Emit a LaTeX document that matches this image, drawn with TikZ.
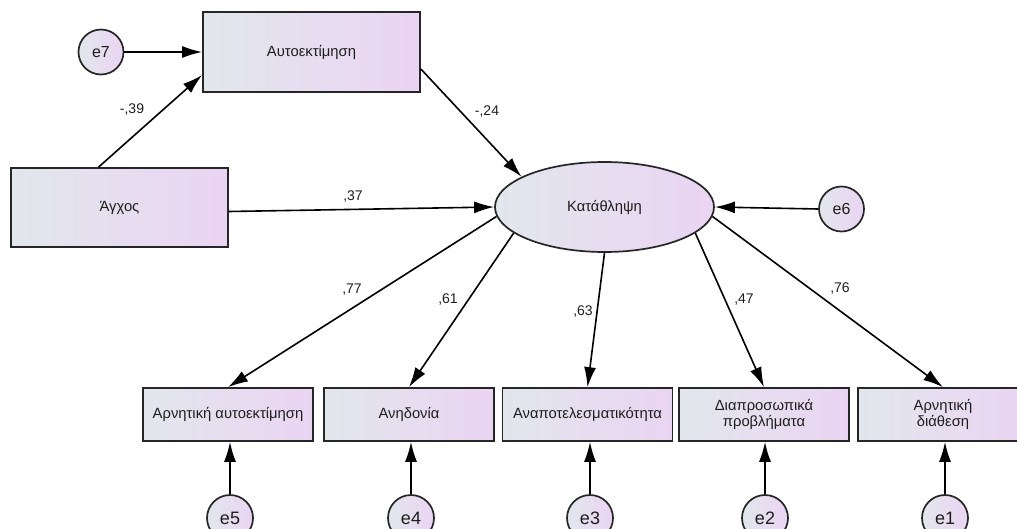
\documentclass[tikz,border=0pt]{standalone}
\usepackage{fontspec}
\setmainfont{Liberation Sans}
\usetikzlibrary{arrows.meta,calc,shapes.geometric}
\definecolor{cL}{RGB}{226,231,236}
\definecolor{cR}{RGB}{234,212,243}
\definecolor{txt}{RGB}{30,30,30}
\begin{document}
\begin{tikzpicture}[x=1pt,y=-1pt,
  every node/.style={font=\fontsize{14.8}{16.5}\selectfont, text=txt},
  obs/.style={draw=black!85, line width=1.7pt, rectangle, inner sep=0pt, left color=cL, right color=cR, align=center},
  lat/.style={draw=black!85, line width=1.7pt, ellipse, inner sep=0pt, minimum width=219, minimum height=90, left color=cL, right color=cR},
  err/.style={draw=black!85, line width=1.7pt, circle, inner sep=0pt, minimum size=45, left color=cL, right color=cR, font=\fontsize{16}{18}\selectfont},
  errb/.style={err, minimum size=46, font=\fontsize{18}{20}\selectfont},
  arr/.style={-{Latex[length=20pt,width=12pt]}, line width=1.6pt, black},
  coef/.style={inner sep=0pt, font=\fontsize{14}{16}\selectfont}]
\useasboundingbox (0,0) rectangle (1017,528);
\clip (0,0) rectangle (1017,528);
\fill[white] (0,0) rectangle (1017,528);

% nodes
\node[obs, minimum width=217, minimum height=80] (A) at (311.5,52) {Αυτοεκτίμηση};
\node[obs, minimum width=217, minimum height=79] (G) at (119.5,207.5) {Άγχος};
\node[lat] (K) at (604.5,207) {Κατάθληψη};
\node[err] (e7) at (101,52) {e7};
\node[err] (e6) at (841.5,209) {e6};

\node[obs, minimum width=170, minimum height=53] (b5) at (228,414.5) {Αρνητική αυτοεκτίμηση};
\node[obs, minimum width=170, minimum height=53] (b4) at (409,414.5) {Ανηδονία};
\node[obs, minimum width=170, minimum height=53] (b3) at (587.5,414.5) {Αναποτελεσματικότητα};
\node[obs, minimum width=170, minimum height=53] (b2) at (764,414.5) {Διαπροσωπικά\\[-1pt]προβλήματα};
\node[obs, minimum width=170, minimum height=53] (b1) at (943,414.5) {Αρνητική\\[-1pt]διάθεση};

\node[errb] (e5) at (230,518) {e5};
\node[errb] (e4) at (411,518) {e4};
\node[errb] (e3) at (590,518) {e3};
\node[errb] (e2) at (765,518) {e2};
\node[errb] (e1) at (945,518) {e1};

% connectors
\draw[arr] (e7.east) -- (A.west |- e7.east);
\draw[arr] ($(G.north)+(-21,0)$) -- ($(A.west)+(0,23)$);
\draw[arr] ($(A.east)+(0,17)$) -- (K.160);
\draw[arr] ($(G.east)+(0,4)$) -- (K.west);
\draw[arr] (e6.west) -- (K.east);

\draw[arr] (K.185) -- (b5.north);
\draw[arr] (K.196) -- (b4.north);
\draw[arr] (K.270) -- (b3.north);
\draw[arr] (K.344) -- (b2.north);
\draw[arr] (K.355) -- (b1.north);

\draw[arr] (e5.north) -- (e5.north |- b5.south);
\draw[arr] (e4.north) -- (e4.north |- b4.south);
\draw[arr] (e3.north) -- (e3.north |- b3.south);
\draw[arr] (e2.north) -- (e2.north |- b2.south);
\draw[arr] (e1.north) -- (e1.north |- b1.south);

% coefficients
\node[coef] (c39) at (132,110) {-,39};
\node[coef] (c37) at (353,197) {,37};
\node[coef] (c24) at (487,112) {-,24};
\node[coef] (c77) at (352,290) {,77};
\node[coef] (c61) at (448,300) {,61};
\node[coef] (c63) at (583,312) {,63};
\node[coef] (c47) at (744,300) {,47};
\node[coef] (c76) at (840,289) {,76};
\end{tikzpicture}
\end{document}
